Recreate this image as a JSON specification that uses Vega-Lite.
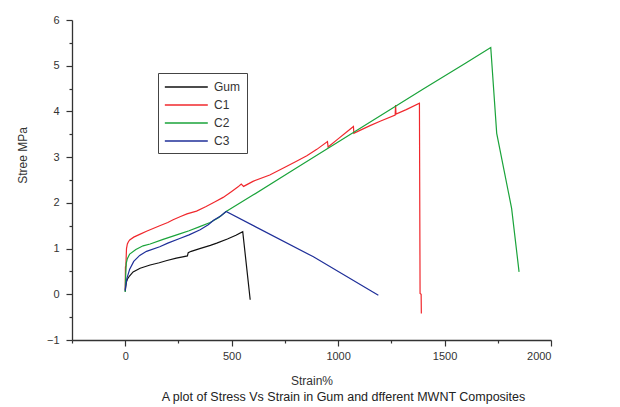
{
  "$schema": "https://vega.github.io/schema/vega-lite/v6.json",
  "width": 479,
  "height": 320,
  "autosize": {"type": "none"},
  "padding": {"left": 72, "top": 20, "right": 69, "bottom": 67},
  "background": "white",
  "config": {
    "view": {"stroke": null},
    "font": "Liberation Sans",
    "axis": {"grid": false, "domainColor": "#333", "tickColor": "#333", "domainWidth": 1.3, "tickWidth": 1.2, "labelColor": "#333", "titleColor": "#333", "labelFontSize": 11, "titleFontSize": 12, "titleFontWeight": "normal"}
  },
  "title": {"text": "A plot of Stress Vs Strain in Gum and dfferent MWNT Composites", "orient": "bottom", "anchor": "middle", "dx": 32, "offset": 5, "fontSize": 12.5, "fontWeight": "normal", "color": "#222"},
  "data": {"values": [
    {"sample": "Gum", "strain": 0, "stress": 0.06},
    {"sample": "Gum", "strain": 2, "stress": 0.15},
    {"sample": "Gum", "strain": 5, "stress": 0.26},
    {"sample": "Gum", "strain": 10, "stress": 0.33},
    {"sample": "Gum", "strain": 20, "stress": 0.40},
    {"sample": "Gum", "strain": 37, "stress": 0.49},
    {"sample": "Gum", "strain": 70, "stress": 0.57},
    {"sample": "Gum", "strain": 117, "stress": 0.64},
    {"sample": "Gum", "strain": 160, "stress": 0.69},
    {"sample": "Gum", "strain": 196, "stress": 0.74},
    {"sample": "Gum", "strain": 240, "stress": 0.79},
    {"sample": "Gum", "strain": 270, "stress": 0.82},
    {"sample": "Gum", "strain": 292, "stress": 0.84},
    {"sample": "Gum", "strain": 296, "stress": 0.91},
    {"sample": "Gum", "strain": 310, "stress": 0.94},
    {"sample": "Gum", "strain": 350, "stress": 1.00},
    {"sample": "Gum", "strain": 400, "stress": 1.07},
    {"sample": "Gum", "strain": 430, "stress": 1.12},
    {"sample": "Gum", "strain": 480, "stress": 1.21},
    {"sample": "Gum", "strain": 520, "stress": 1.29},
    {"sample": "Gum", "strain": 552, "stress": 1.37},
    {"sample": "Gum", "strain": 587, "stress": -0.12},
    {"sample": "C1", "strain": 0, "stress": 0.1},
    {"sample": "C1", "strain": 1, "stress": 0.6},
    {"sample": "C1", "strain": 3, "stress": 0.62},
    {"sample": "C1", "strain": 6, "stress": 1.0},
    {"sample": "C1", "strain": 10, "stress": 1.1},
    {"sample": "C1", "strain": 15, "stress": 1.15},
    {"sample": "C1", "strain": 21, "stress": 1.19},
    {"sample": "C1", "strain": 40, "stress": 1.25},
    {"sample": "C1", "strain": 68, "stress": 1.31},
    {"sample": "C1", "strain": 100, "stress": 1.38},
    {"sample": "C1", "strain": 131, "stress": 1.44},
    {"sample": "C1", "strain": 162, "stress": 1.50},
    {"sample": "C1", "strain": 200, "stress": 1.57},
    {"sample": "C1", "strain": 225, "stress": 1.63},
    {"sample": "C1", "strain": 260, "stress": 1.70},
    {"sample": "C1", "strain": 290, "stress": 1.76},
    {"sample": "C1", "strain": 335, "stress": 1.82},
    {"sample": "C1", "strain": 380, "stress": 1.92},
    {"sample": "C1", "strain": 420, "stress": 2.02},
    {"sample": "C1", "strain": 460, "stress": 2.12},
    {"sample": "C1", "strain": 500, "stress": 2.25},
    {"sample": "C1", "strain": 530, "stress": 2.35},
    {"sample": "C1", "strain": 545, "stress": 2.41},
    {"sample": "C1", "strain": 556, "stress": 2.36},
    {"sample": "C1", "strain": 600, "stress": 2.47},
    {"sample": "C1", "strain": 679, "stress": 2.61},
    {"sample": "C1", "strain": 750, "stress": 2.78},
    {"sample": "C1", "strain": 800, "stress": 2.90},
    {"sample": "C1", "strain": 853, "stress": 3.03},
    {"sample": "C1", "strain": 900, "stress": 3.17},
    {"sample": "C1", "strain": 950, "stress": 3.34},
    {"sample": "C1", "strain": 953, "stress": 3.22},
    {"sample": "C1", "strain": 1000, "stress": 3.40},
    {"sample": "C1", "strain": 1040, "stress": 3.55},
    {"sample": "C1", "strain": 1072, "stress": 3.67},
    {"sample": "C1", "strain": 1074, "stress": 3.52},
    {"sample": "C1", "strain": 1100, "stress": 3.58},
    {"sample": "C1", "strain": 1150, "stress": 3.69},
    {"sample": "C1", "strain": 1200, "stress": 3.79},
    {"sample": "C1", "strain": 1268, "stress": 3.92},
    {"sample": "C1", "strain": 1270, "stress": 4.14},
    {"sample": "C1", "strain": 1272, "stress": 3.94},
    {"sample": "C1", "strain": 1320, "stress": 4.04},
    {"sample": "C1", "strain": 1382, "stress": 4.18},
    {"sample": "C1", "strain": 1385, "stress": 0.02},
    {"sample": "C1", "strain": 1390, "stress": 0.0},
    {"sample": "C1", "strain": 1391, "stress": -0.42},
    {"sample": "C2", "strain": 0, "stress": 0.05},
    {"sample": "C2", "strain": 2, "stress": 0.4},
    {"sample": "C2", "strain": 5, "stress": 0.68},
    {"sample": "C2", "strain": 10, "stress": 0.78},
    {"sample": "C2", "strain": 21, "stress": 0.88},
    {"sample": "C2", "strain": 50, "stress": 0.98},
    {"sample": "C2", "strain": 84, "stress": 1.06},
    {"sample": "C2", "strain": 117, "stress": 1.10},
    {"sample": "C2", "strain": 178, "stress": 1.20},
    {"sample": "C2", "strain": 256, "stress": 1.32},
    {"sample": "C2", "strain": 300, "stress": 1.39},
    {"sample": "C2", "strain": 350, "stress": 1.48},
    {"sample": "C2", "strain": 399, "stress": 1.57},
    {"sample": "C2", "strain": 440, "stress": 1.68},
    {"sample": "C2", "strain": 474, "stress": 1.81},
    {"sample": "C2", "strain": 600, "stress": 2.17},
    {"sample": "C2", "strain": 800, "stress": 2.75},
    {"sample": "C2", "strain": 1000, "stress": 3.33},
    {"sample": "C2", "strain": 1200, "stress": 3.91},
    {"sample": "C2", "strain": 1400, "stress": 4.49},
    {"sample": "C2", "strain": 1600, "stress": 5.06},
    {"sample": "C2", "strain": 1717, "stress": 5.40},
    {"sample": "C2", "strain": 1745, "stress": 3.52},
    {"sample": "C2", "strain": 1780, "stress": 2.70},
    {"sample": "C2", "strain": 1815, "stress": 1.88},
    {"sample": "C2", "strain": 1850, "stress": 0.49},
    {"sample": "C3", "strain": 0, "stress": 0.08},
    {"sample": "C3", "strain": 2, "stress": 0.17},
    {"sample": "C3", "strain": 8, "stress": 0.35},
    {"sample": "C3", "strain": 21, "stress": 0.55},
    {"sample": "C3", "strain": 40, "stress": 0.72},
    {"sample": "C3", "strain": 68, "stress": 0.85},
    {"sample": "C3", "strain": 100, "stress": 0.94},
    {"sample": "C3", "strain": 162, "stress": 1.04},
    {"sample": "C3", "strain": 200, "stress": 1.12},
    {"sample": "C3", "strain": 256, "stress": 1.22},
    {"sample": "C3", "strain": 300, "stress": 1.30},
    {"sample": "C3", "strain": 352, "stress": 1.41},
    {"sample": "C3", "strain": 390, "stress": 1.52},
    {"sample": "C3", "strain": 415, "stress": 1.62},
    {"sample": "C3", "strain": 450, "stress": 1.72},
    {"sample": "C3", "strain": 474, "stress": 1.81},
    {"sample": "C3", "strain": 884, "stress": 0.82},
    {"sample": "C3", "strain": 1189, "stress": -0.02}
  ]},
  "layer": [
    {
      "mark": {"type": "line", "strokeWidth": 1.2},
      "encoding": {
        "x": {"field": "strain", "type": "quantitative", "scale": {"domain": [-250, 2000], "nice": false, "zero": false},
              "axis": {"values": [0, 500, 1000, 1500, 2000], "format": "d", "title": "Strain%", "tickSize": 6, "labelPadding": 4, "titlePadding": 14}},
        "y": {"field": "stress", "type": "quantitative", "scale": {"domain": [-1, 6], "nice": false, "zero": false},
              "axis": {"values": [-1, 0, 1, 2, 3, 4, 5, 6], "format": "d", "title": "Stree MPa", "tickSize": 6, "labelPadding": 7, "titleAngle": 270, "titleX": -50, "titleY": 135, "titleAlign": "center", "titleBaseline": "middle"}},
        "color": {"field": "sample", "type": "nominal",
                  "scale": {"domain": ["Gum", "C1", "C2", "C3"], "range": ["#111111", "#f0282d", "#1aa33a", "#1f2f99"]},
                  "legend": {"orient": "none", "legendX": 86, "legendY": 53, "title": null, "strokeColor": "#444", "fillColor": "white", "padding": 6, "symbolType": "M-1,0H5", "symbolSize": 205, "symbolStrokeWidth": 1.3, "labelOffset": 34, "rowPadding": 4, "labelFontSize": 12, "labelColor": "#333", "labelExpr": "datum.label + '\u00a0\u00a0\u00a0\u00a0\u00a0'"}}
      }
    },
    {
      "mark": {"type": "line", "opacity": 0},
      "encoding": {
        "x": {"field": "strain", "type": "quantitative", "scale": {"domain": [-250, 2000], "nice": false, "zero": false},
              "axis": {"orient": "bottom", "values": [-250, 250, 750, 1250, 1750], "tickSize": 3, "labels": false, "domain": false, "title": null}},
        "y": {"field": "stress", "type": "quantitative", "scale": {"domain": [-1, 6], "nice": false, "zero": false},
              "axis": {"orient": "left", "values": [-0.5, 0.5, 1.5, 2.5, 3.5, 4.5, 5.5], "tickSize": 3, "labels": false, "domain": false, "title": null}},
        "detail": {"field": "sample", "type": "nominal"}
      }
    }
  ],
  "resolve": {"scale": {"x": "independent", "y": "independent"}}
}
